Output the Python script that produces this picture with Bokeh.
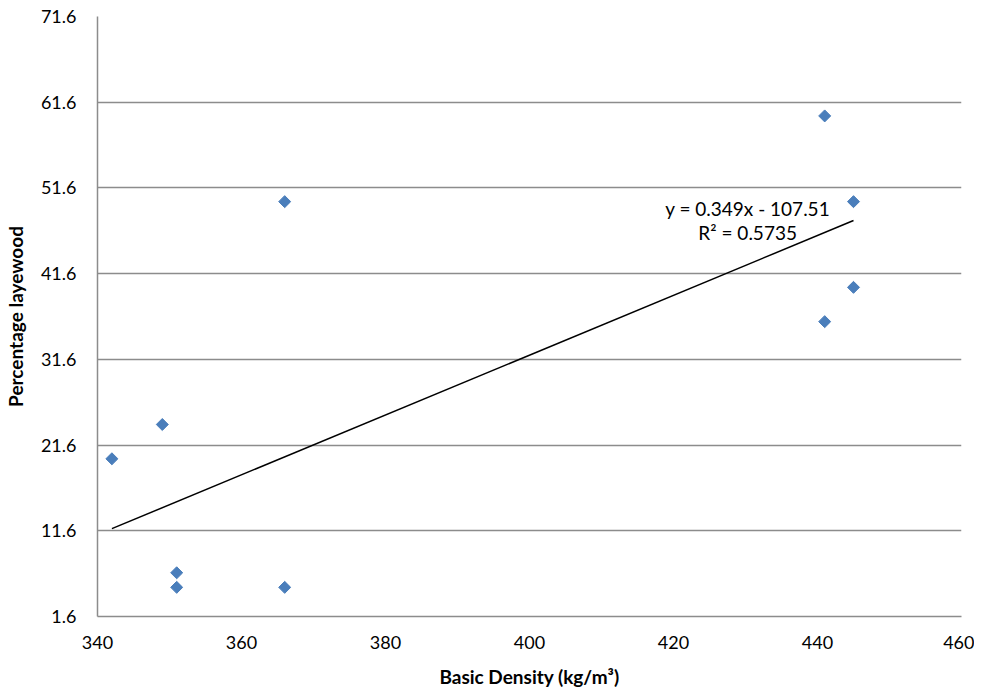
from bokeh.plotting import figure
from bokeh.models import FixedTicker, ColumnDataSource, Range1d
from bokeh.core.properties import value
from bokeh.embed import file_html
from bokeh.resources import INLINE
import math

# Data
density = [342, 349, 351, 351, 366, 366, 441, 445, 445, 441]
layewood = [20.0, 24.0, 6.7, 5.0, 5.0, 50.0, 60.0, 50.0, 40.0, 36.0]

slope = 0.349
intercept = -107.51
eq_label = "y = 0.349x - 107.51"
r2_label = "R\u00b2 = 0.5735"

x_ticks = [340, 360, 380, 400, 420, 440, 460]
y_ticks = [1.6, 11.6, 21.6, 31.6, 41.6, 51.6, 61.6, 71.6]
y_tick_labels = ["1.6", "11.6", "21.6", "31.6", "41.6", "51.6", "61.6", "71.6"]

FONT = "Lato"
GRID = "#8c8c8c"

p = figure(frame_width=864, frame_height=600,
           min_border_left=91, min_border_top=16, min_border_right=13, min_border_bottom=68,
           x_range=Range1d(340, 460), y_range=Range1d(1.6, 71.6),
           output_backend="svg", toolbar_location=None)
p.outline_line_color = None
p.background_fill_color = "white"
p.border_fill_color = "white"

p.xgrid.grid_line_color = None
p.ygrid.grid_line_color = GRID
p.ygrid.grid_line_width = 1.5

p.xaxis.ticker = FixedTicker(ticks=x_ticks)
p.yaxis.ticker = FixedTicker(ticks=y_ticks)
p.yaxis.major_label_overrides = {t: l for t, l in zip(y_ticks, y_tick_labels)}

for ax in (p.xaxis[0], p.yaxis[0]):
    ax.axis_line_color = GRID
    ax.axis_line_width = 1.5
    ax.major_tick_line_color = None
    ax.minor_tick_line_color = None
    ax.major_label_text_font = FONT
    ax.major_label_text_font_size = "18px"
    ax.major_label_text_color = "black"
    ax.axis_label_text_font = FONT
    ax.axis_label_text_font_size = "19px"
    ax.axis_label_text_font_style = "bold"
    ax.axis_label_text_color = "black"

p.xaxis.axis_label = "Basic Density (kg/m\u00b3)"
p.yaxis.axis_label = "Percentage layewood"
p.xaxis.major_label_standoff = 13
p.xaxis.axis_label_standoff = 13
p.yaxis.major_label_standoff = 15
p.yaxis.axis_label_standoff = 11

# Trend line over data range
x0, x1 = min(density), max(density)
p.line([x0, x1], [slope * x0 + intercept, slope * x1 + intercept],
       line_color="black", line_width=1.5)

src = ColumnDataSource(dict(x=density, y=layewood))
p.scatter("x", "y", source=src, marker="square", size=8.5, angle=math.pi / 4,
          fill_color="#4a7ebb", line_color="#4a7ebb")

p.text(x=[430.3, 430.3], y=[49.2, 46.4], text=[eq_label, r2_label],
       text_font=value(FONT), text_font_size="19px", text_color="black",
       text_align="center", text_baseline="middle")

open("out.html", "w").write(file_html(p, INLINE))
